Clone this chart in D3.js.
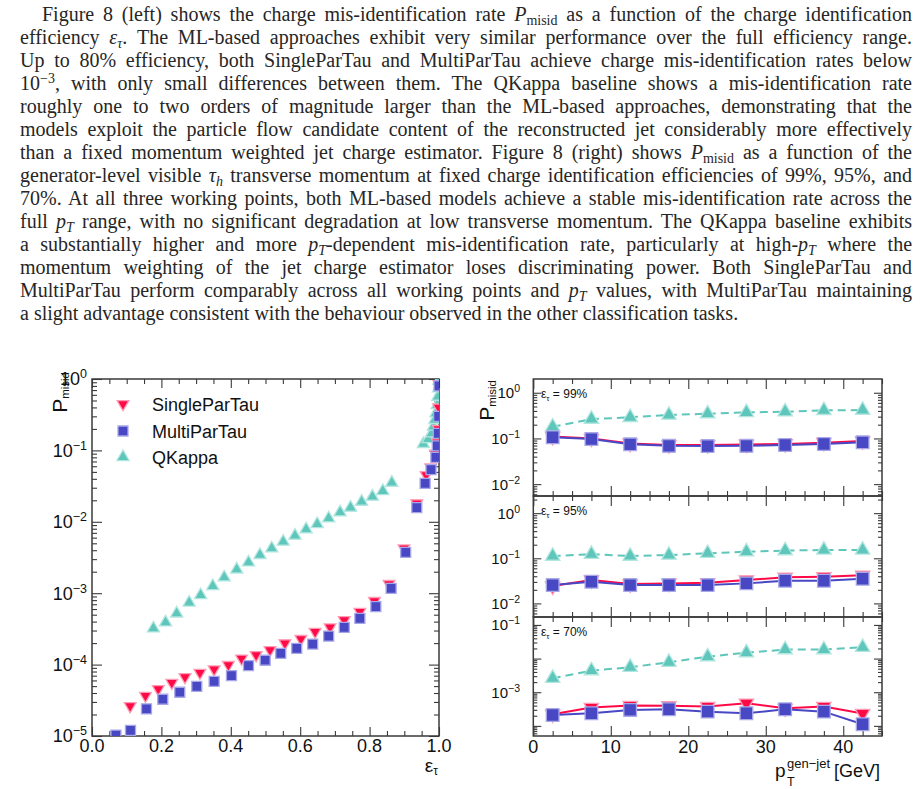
<!DOCTYPE html>
<html><head><meta charset="utf-8">
<script src="https://cdn.jsdelivr.net/npm/d3@7"></script>
<style>
body{margin:0;width:920px;height:789px;overflow:hidden;background:#fff;position:relative}
svg{position:absolute;left:0;top:0}
#para{position:absolute;left:0;top:0;width:920px;height:340px;font-family:"Liberation Serif","Times New Roman",serif;font-size:20px;color:#262626;z-index:2}
.ln{position:absolute;white-space:nowrap;line-height:20px}
.ln sub{font-size:0.7em;vertical-align:-0.28em;line-height:0}
.ln sup{font-size:0.7em;vertical-align:0.5em;line-height:0}
</style></head><body>
<div id="para"></div>
<script>
// ---------------- paragraph text ----------------
const paraLines = [
 'Figure 8 (left) shows the charge mis-identification rate <i>P</i><sub>misid</sub> as a function of the charge identification',
 'efficiency <i>ε<sub>τ</sub></i>. The ML-based approaches exhibit very similar performance over the full efficiency range.',
 'Up to 80% efficiency, both SingleParTau and MultiParTau achieve charge mis-identification rates below',
 '10<sup>−3</sup>, with only small differences between them. The QKappa baseline shows a mis-identification rate',
 'roughly one to two orders of magnitude larger than the ML-based approaches, demonstrating that the',
 'models exploit the particle flow candidate content of the reconstructed jet considerably more effectively',
 'than a fixed momentum weighted jet charge estimator. Figure 8 (right) shows <i>P</i><sub>misid</sub> as a function of the',
 'generator-level visible <i>τ<sub>h</sub></i> transverse momentum at fixed charge identification efficiencies of 99%, 95%, and',
 '70%. At all three working points, both ML-based models achieve a stable mis-identification rate across the',
 'full <i>p<sub>T</sub></i> range, with no significant degradation at low transverse momentum. The QKappa baseline exhibits',
 'a substantially higher and more <i>p<sub>T</sub></i>-dependent mis-identification rate, particularly at high-<i>p<sub>T</sub></i> where the',
 'momentum weighting of the jet charge estimator loses discriminating power. Both SingleParTau and',
 'MultiParTau perform comparably across all working points and <i>p<sub>T</sub></i> values, with MultiParTau maintaining',
 'a slight advantage consistent with the behaviour observed in the other classification tasks.'
];

// ---------------- left panel data: P_misid vs efficiency ----------------
const effSingle = [0.110,0.154,0.191,0.230,0.268,0.311,0.352,0.393,0.431,0.473,0.513,0.556,0.602,0.643,0.686,0.727,0.772,0.814,0.856,0.899,0.936,0.963,0.976,0.990,0.995,0.998,0.999,1.000];
const misSingle = [2.63e-5,3.67e-5,4.55e-5,5.58e-5,6.7e-5,7.7e-5,8.6e-5,9.9e-5,1.22e-4,1.36e-4,1.6e-4,1.99e-4,2.29e-4,2.89e-4,3.33e-4,4.2e-4,5.5e-4,7.8e-4,1.35e-3,4.25e-3,1.82e-2,4.52e-2,5.8e-2,0.09,0.13,0.2,0.4,0.85];
const effMulti = [0.069,0.111,0.157,0.204,0.253,0.302,0.352,0.402,0.451,0.499,0.544,0.590,0.636,0.682,0.727,0.772,0.818,0.862,0.904,0.936,0.960,0.977,0.991,0.995,0.998,0.999,1.000];
const misMulti = [1.03e-5,1.2e-5,2.4e-5,3.27e-5,4.1e-5,4.97e-5,5.83e-5,7.0e-5,9.66e-5,1.15e-4,1.44e-4,1.69e-4,1.94e-4,2.51e-4,3.32e-4,4.45e-4,6.47e-4,1.17e-3,3.73e-3,1.58e-2,3.46e-2,5.37e-2,8.0e-2,0.116,0.173,0.3,0.8];
const effQKappa = [0.177,0.212,0.244,0.280,0.313,0.348,0.381,0.417,0.451,0.484,0.518,0.551,0.585,0.617,0.649,0.682,0.715,0.745,0.777,0.808,0.838,0.864,0.955,0.969,0.979,0.984,0.988,0.991,0.995,0.997,0.999,1.000];
const misQKappa = [3.22e-4,3.9e-4,5.2e-4,7.4e-4,9.4e-4,1.26e-3,1.67e-3,2.15e-3,2.7e-3,3.43e-3,4.25e-3,5.27e-3,6.4e-3,7.85e-3,9.3e-3,1.12e-2,1.36e-2,1.58e-2,1.91e-2,2.25e-2,2.7e-2,3.53e-2,0.123,0.144,0.173,0.215,0.267,0.33,0.43,0.565,0.74,0.94];
const leftXTicks = [0.0,0.2,0.4,0.6,0.8,1.0];
const leftYExps = [-5,-4,-3,-2,-1,0];
const legendNames = ['SingleParTau','MultiParTau','QKappa'];

// ---------------- right panels data: P_misid vs pT ----------------
const ptBins = [2.5,7.5,12.5,17.5,22.5,27.5,32.5,37.5,42.5];
const p99Single = [0.110,0.100,0.078,0.072,0.072,0.074,0.076,0.081,0.088];
const p99Multi  = [0.106,0.097,0.0743,0.069,0.068,0.069,0.0718,0.0754,0.0822];
const p99QKappa = [0.180,0.265,0.290,0.325,0.348,0.372,0.384,0.412,0.418];
const p95Single = [0.0242,0.0330,0.0268,0.0278,0.0287,0.0330,0.0378,0.0390,0.0419];
const p95Multi  = [0.0255,0.0302,0.0255,0.0255,0.0255,0.0278,0.0318,0.0318,0.0352];
const p95QKappa = [0.112,0.123,0.112,0.118,0.129,0.140,0.148,0.153,0.153];
const p70Single = [2.22e-4,3.5e-4,4.01e-4,3.93e-4,3.75e-4,4.71e-4,3.35e-4,3.75e-4,2.32e-4];
const p70Multi  = [2.11e-4,2.37e-4,2.98e-4,3.12e-4,2.65e-4,2.37e-4,3.12e-4,2.65e-4,1.12e-4];
const p70QKappa = [2.61e-3,4.39e-3,5.53e-3,7.78e-3,1.14e-2,1.50e-2,1.85e-2,1.85e-2,2.17e-2];
const rightXTicks = [0,10,20,30,40];
const panelLabels = ['99%','95%','70%'];
const panelYExps = [[-2,-1,0],[-2,-1,0],[-3,-1]];

// ---------------- paragraph layout ----------------
const para = d3.select('#para');
paraLines.forEach((html,i)=>{
  const first = i===0, last = i===paraLines.length-1;
  const left = first?42:20, right = 912;
  const baseline = 21 + 23*i;
  const div = para.append('div').attr('class','ln').style('left',left+'px').style('top',(baseline-16.75)+'px');
  const span = div.append('span').html(html);
  if(!last){
    const w = span.node().getBoundingClientRect().width;
    const n = (span.node().textContent.match(/ /g)||[]).length;
    span.style('word-spacing', ((right-left-w)/n)+'px');
  }
});

// ---------------- chart helpers ----------------
const svg = d3.select('body').append('svg').attr('width',920).attr('height',789);
const sans = '"Liberation Sans", Arial, Helvetica, sans-serif';
const cRed='#ff0a47', cBlue='#4848c4', cTeal='#5ec6bb';
const hRed='#ff9bb4', hBlue='#a8a8e8', hTeal='#b2e6e0';
const frameColor='#3a3a3a';

function logMinor([a,b]){
  const out=[];
  for(let e=Math.floor(Math.log10(a)); e<=Math.ceil(Math.log10(b)); e++)
    for(let m=2;m<=9;m++){const v=m*Math.pow(10,e); if(v>a*1.0001 && v<b*0.9999) out.push(v);}
  return out;
}
function strip(s){ s.select('.domain').remove(); s.selectAll('text').remove(); s.selectAll('line').attr('stroke',frameColor).attr('stroke-width',1.1); }
function drawTicks(g,x,y,o){
  const [x0,x1]=x.range(), yb=y.range()[0], yt=y.range()[1];
  const add=(axis,tr)=>g.append('g').attr('transform',tr).call(axis).call(strip);
  add(d3.axisBottom(x).tickValues(o.xMaj).tickSize(-o.lxMaj).tickFormat(''),`translate(0,${yb})`);
  add(d3.axisBottom(x).tickValues(o.xMin).tickSize(-o.lxMin).tickFormat(''),`translate(0,${yb})`);
  add(d3.axisTop(x).tickValues(o.xMaj).tickSize(-o.lxMaj).tickFormat(''),`translate(0,${yt})`);
  add(d3.axisTop(x).tickValues(o.xMin).tickSize(-o.lxMin).tickFormat(''),`translate(0,${yt})`);
  add(d3.axisLeft(y).tickValues(o.yMaj).tickSize(-o.lyMaj).tickFormat(''),`translate(${x0},0)`);
  add(d3.axisLeft(y).tickValues(o.yMin).tickSize(-o.lyMin).tickFormat(''),`translate(${x0},0)`);
  add(d3.axisRight(y).tickValues(o.yMaj).tickSize(-o.lyMaj).tickFormat(''),`translate(${x1},0)`);
  add(d3.axisRight(y).tickValues(o.yMin).tickSize(-o.lyMin).tickFormat(''),`translate(${x1},0)`);
  g.append('rect').attr('x',x0).attr('y',yt).attr('width',x1-x0).attr('height',yb-yt)
    .attr('fill','none').attr('stroke',frameColor).attr('stroke-width',1.5);
}
function logLabel(g,xEnd,yPos,exp,fs,sfs,dyUp){
  const t=g.append('text').attr('x',xEnd).attr('y',yPos+fs*0.36).attr('text-anchor','end')
    .attr('font-family',sans).attr('font-size',fs).attr('fill','#111');
  t.append('tspan').text('10');
  t.append('tspan').attr('font-size',sfs).attr('dy',-dyUp).text(exp<0?('−'+(-exp)):String(exp));
}
function markers(g,xs,ys,x,y,type,size,fill,halo,rot){
  const sym=d3.symbol().type(type).size(size);
  g.selectAll(null).data(xs.map((v,i)=>[v,ys[i]])).join('path')
    .attr('d',sym).attr('transform',d=>`translate(${x(d[0])},${y(d[1])})${rot?' rotate(180)':''}`)
    .attr('fill',fill).attr('stroke',halo).attr('stroke-width',1.3);
}
// vertical axis title placed so that its on-screen box starts at (left, top)
function vTitle(left,top){
  const g=svg.append('g');
  const t=g.append('text').attr('transform','rotate(-90)').attr('font-family',sans).attr('fill','#111');
  t.append('tspan').attr('font-size',21).text('P');
  t.append('tspan').attr('font-size',11.5).attr('dy',2).text('misid');
  const b=t.node().getBoundingClientRect();
  g.attr('transform',`translate(${left-b.left},${top-b.top})`);
}

// ---------------- LEFT CHART ----------------
const xL = d3.scaleLinear().domain([0,1]).range([92,439]);
const yL = d3.scaleLog().domain([1e-5,1]).range([736,379]);
const gL = svg.append('g');
svg.append('clipPath').attr('id','clipL').append('rect').attr('x',92).attr('y',379).attr('width',347).attr('height',357);
drawTicks(gL,xL,yL,{xMaj:leftXTicks,xMin:d3.range(0,1.0001,0.05).filter(v=>Math.abs(v*5-Math.round(v*5))>1e-6),
  yMaj:leftYExps.map(e=>Math.pow(10,e)),yMin:logMinor(yL.domain()),lxMaj:9,lxMin:5,lyMaj:10,lyMin:5});
leftXTicks.forEach(v=>gL.append('text').attr('x',xL(v)).attr('y',752).attr('text-anchor','middle')
  .attr('font-family',sans).attr('font-size',18).attr('fill','#111').text(d3.format('.1f')(v)));
leftYExps.forEach(e=>logLabel(gL,87,yL(Math.pow(10,e)),e,18,12.5,7));
const mL = gL.append('g').attr('clip-path','url(#clipL)');
markers(mL,effQKappa,misQKappa,xL,yL,d3.symbolTriangle,65,cTeal,hTeal,false);
markers(mL,effSingle,misSingle,xL,yL,d3.symbolTriangle,60,cRed,hRed,true);
markers(mL,effMulti,misMulti,xL,yL,d3.symbolSquare,100,cBlue,hBlue,false);
// legend
const legY=[404,431,457];
const legSpec=[[d3.symbolTriangle,60,cRed,hRed,true],[d3.symbolSquare,100,cBlue,hBlue,false],[d3.symbolTriangle,65,cTeal,hTeal,false]];
legendNames.forEach((nm,i)=>{
  const s=legSpec[i];
  gL.append('path').attr('d',d3.symbol().type(s[0]).size(s[1])).attr('transform',`translate(123,${legY[i]})${s[4]?' rotate(180)':''}`)
    .attr('fill',s[2]).attr('stroke',s[3]).attr('stroke-width',1.3);
  gL.append('text').attr('x',152).attr('y',legY[i]+6.5).attr('font-family',sans).attr('font-size',18).attr('fill','#111').text(nm);
});
// axis titles
const tL = gL.append('text').attr('x',438).attr('y',772).attr('text-anchor','end').attr('font-family',sans).attr('fill','#111');
tL.append('tspan').attr('font-size',19).text('ε');
tL.append('tspan').attr('font-size',12).attr('dy',3).text('τ');
vTitle(48,372);

// ---------------- RIGHT CHART ----------------
const xR = d3.scaleLinear().domain([0,45]).range([533.3,882]);
const panelDefs = [
  {y:d3.scaleLog().domain([5.5e-3,2.0]).range([496,379]), s:p99Single, m:p99Multi, q:p99QKappa},
  {y:d3.scaleLog().domain([5e-3,2.4]).range([617,496]), s:p95Single, m:p95Multi, q:p95QKappa},
  {y:d3.scaleLog().domain([5e-5,0.172]).range([736,617]), s:p70Single, m:p70Multi, q:p70QKappa}
];
const xMinR = d3.range(0,45.001,2.5).filter(v=>v%10!==0);
panelDefs.forEach((p,pi)=>{
  const g=svg.append('g');
  const yr=p.y.range();
  drawTicks(g,xR,p.y,{xMaj:rightXTicks,xMin:xMinR,yMaj:d3.range(-5,1).map(e=>Math.pow(10,e)).filter(v=>v>=p.y.domain()[0]&&v<=p.y.domain()[1]),
    yMin:logMinor(p.y.domain()),lxMaj:10,lxMin:5,lyMaj:8,lyMin:4});
  panelYExps[pi].forEach(e=>logLabel(g,520,p.y(Math.pow(10,e)),e,15,10.5,6));
  const cid='clipR'+pi;
  svg.append('clipPath').attr('id',cid).append('rect').attr('x',533.3).attr('y',yr[1]).attr('width',882-533.3).attr('height',yr[0]-yr[1]);
  const m=g.append('g').attr('clip-path',`url(#${cid})`);
  const line=d3.line().x((d,i)=>xR(ptBins[i])).y(d=>p.y(d));
  m.append('path').attr('d',line(p.q)).attr('fill','none').attr('stroke',cTeal).attr('stroke-width',2).attr('stroke-dasharray','8,5');
  markers(m,ptBins,p.q,xR,p.y,d3.symbolTriangle,90,cTeal,hTeal,false);
  m.append('path').attr('d',line(p.s)).attr('fill','none').attr('stroke',cRed).attr('stroke-width',2);
  markers(m,ptBins,p.s,xR,p.y,d3.symbolTriangle,90,cRed,hRed,true);
  m.append('path').attr('d',line(p.m)).attr('fill','none').attr('stroke',cBlue).attr('stroke-width',2);
  markers(m,ptBins,p.m,xR,p.y,d3.symbolSquare,160,cBlue,hBlue,false);
  const lt=g.append('text').attr('x',541).attr('y',yr[1]+19).attr('font-family',sans).attr('fill','#111');
  lt.append('tspan').attr('font-size',12).text('ε');
  lt.append('tspan').attr('font-size',8).attr('dy',3).text('τ');
  lt.append('tspan').attr('font-size',12).attr('dy',-3).text(' = '+panelLabels[pi]);
});
rightXTicks.forEach(v=>svg.append('text').attr('x',xR(v)).attr('y',752.5).attr('text-anchor','middle')
  .attr('font-family',sans).attr('font-size',18).attr('fill','#111').text(v));
// right axis titles
const gT=svg.append('g').attr('font-family',sans).attr('fill','#111');
gT.append('text').attr('x',775).attr('y',777).attr('font-size',19).text('p');
gT.append('text').attr('x',787).attr('y',786).attr('font-size',12.5).text('T');
gT.append('text').attr('x',787).attr('y',768).attr('font-size',13).text('gen−jet');
gT.append('text').attr('x',880).attr('y',777).attr('text-anchor','end').attr('font-size',18).text('[GeV]');
vTitle(475,380);
</script></body></html>
